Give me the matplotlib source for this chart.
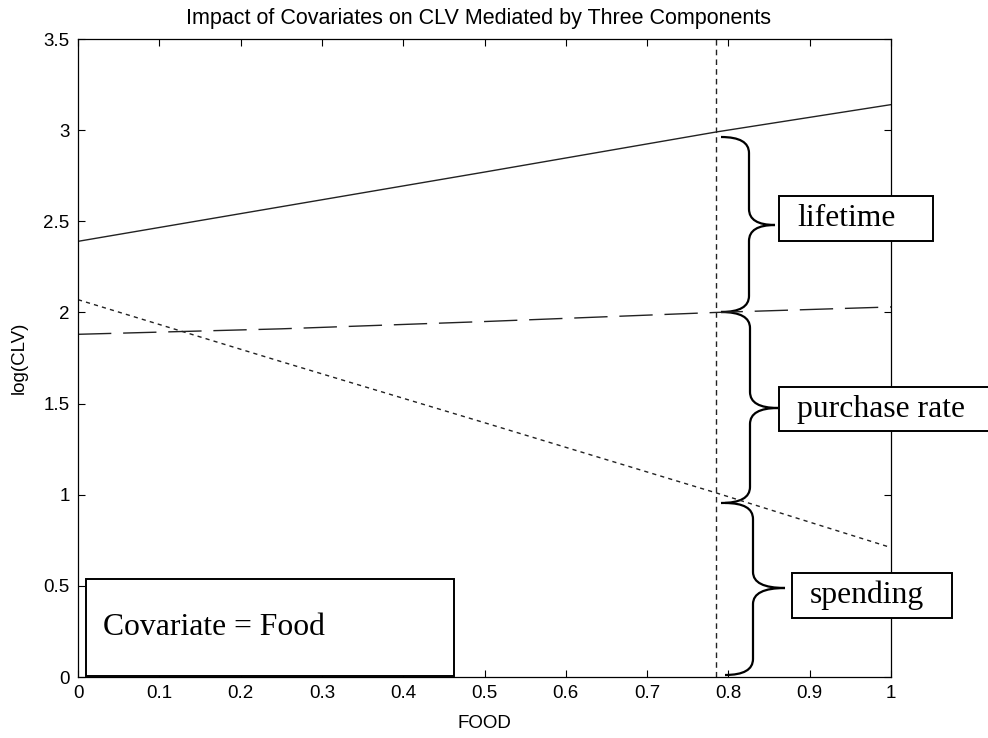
import matplotlib
matplotlib.use("Agg")
import matplotlib.pyplot as plt
from matplotlib.path import Path
from matplotlib.patches import PathPatch, Rectangle

# ---- data ----
food = [0.0, 0.25, 0.5, 0.785, 1.0]
total_clv = [2.39, 2.58, 2.77, 2.99, 3.14]          # solid
rate_spend = [1.88, 1.91, 1.95, 2.00, 2.03]         # dashed
spend_only = [2.07, 1.73, 1.395, 1.01, 0.71]        # dotted
x_ref = 0.785
xticks = [0, 0.1, 0.2, 0.3, 0.4, 0.5, 0.6, 0.7, 0.8, 0.9, 1]
xticklabels = ["0", "0.1", "0.2", "0.3", "0.4", "0.5", "0.6", "0.7", "0.8", "0.9", "1"]
yticks = [0, 0.5, 1, 1.5, 2, 2.5, 3, 3.5]
yticklabels = ["0", "0.5", "1", "1.5", "2", "2.5", "3", "3.5"]
components = ["lifetime", "purchase rate", "spending"]
title = "Impact of Covariates on CLV Mediated by Three Components"
note = "Covariate = Food"

sans = "Liberation Sans"

W, H = 988, 738
fig = plt.figure(figsize=(W / 100, H / 100), dpi=100)
L, R, T, B = 78, 891, 39, 677
ax = fig.add_axes([L / W, 1 - B / H, (R - L) / W, (B - T) / H])

lc = "#222222"
ax.plot(food, total_clv, color=lc, lw=1.0)
ax.plot(food, rate_spend, color=lc, lw=1.0, dashes=(24, 8.5))
ax.plot(food, spend_only, color=lc, lw=1.0, dashes=(3, 3))
ax.axvline(x_ref, color=lc, lw=1.0, dashes=(4, 3))

ax.set_xlim(0, 1)
ax.set_ylim(0, 3.5)
ax.set_xticks(xticks)
ax.set_xticklabels(xticklabels, family=sans, fontsize=13.5)
ax.set_yticks(yticks)
ax.set_yticklabels(yticklabels, family=sans, fontsize=13.5)
ax.tick_params(direction="in", length=5, width=0.8, top=True, right=True, pad=6)
for s in ax.spines.values():
    s.set_linewidth(0.9)
ax.set_title(title, fontsize=15.5, family=sans, pad=11, x=0.493)
ax.set_xlabel("FOOD", fontsize=13.5, family=sans, labelpad=9)
ax.set_ylabel("log(CLV)", fontsize=13.5, family=sans, labelpad=11)

# ---- braces (pixel coordinates -> data) ----
def px2d(px, py):
    return ((px - L) / (R - L), (B - py) / (B - T) * 3.5)

def brace(x0, ytop, xs, xtip, ymid, ybot, r=16):
    pts = [
        (x0, ytop), (xs, ytop), (xs, ytop + r),
        (xs, ymid - r),
        (xs, ymid), (xtip, ymid),
        (xs, ymid), (xs, ymid + r),
        (xs, ybot - r),
        (xs, ybot), (x0, ybot),
    ]
    codes = [Path.MOVETO, Path.CURVE3, Path.CURVE3, Path.LINETO,
             Path.CURVE3, Path.CURVE3, Path.CURVE3, Path.CURVE3,
             Path.LINETO, Path.CURVE3, Path.CURVE3]
    p = Path([px2d(*q) for q in pts], codes)
    ax.add_patch(PathPatch(p, fill=False, lw=1.6, color="black", clip_on=False))

brace(721, 137, 749, 775, 225, 312)
brace(721, 312, 750, 778, 408, 503)
brace(725, 503, 753, 785, 588, 675)

# ---- label boxes (pixel coords) ----
def box(x0, y0, x1, y1, text, tx, fs=22.8):
    rect = Rectangle((x0 / W, 1 - y1 / H), (x1 - x0) / W, (y1 - y0) / H,
                     transform=fig.transFigure, fill=True, facecolor="white",
                     edgecolor="black", lw=1.4, zorder=5)
    fig.add_artist(rect)
    fig.text(tx / W, 1 - (y0 + y1) / 2 / H, text, fontsize=fs,
             family="Liberation Serif", va="center", ha="left", zorder=6)

box(779, 196, 933, 241, components[0], 797)
box(779, 387, 1000, 431, components[1], 797)
box(792, 573, 952, 618, components[2], 810)
box(86, 579, 454, 676, note, 103)

fig.savefig("out.png", dpi=100)
